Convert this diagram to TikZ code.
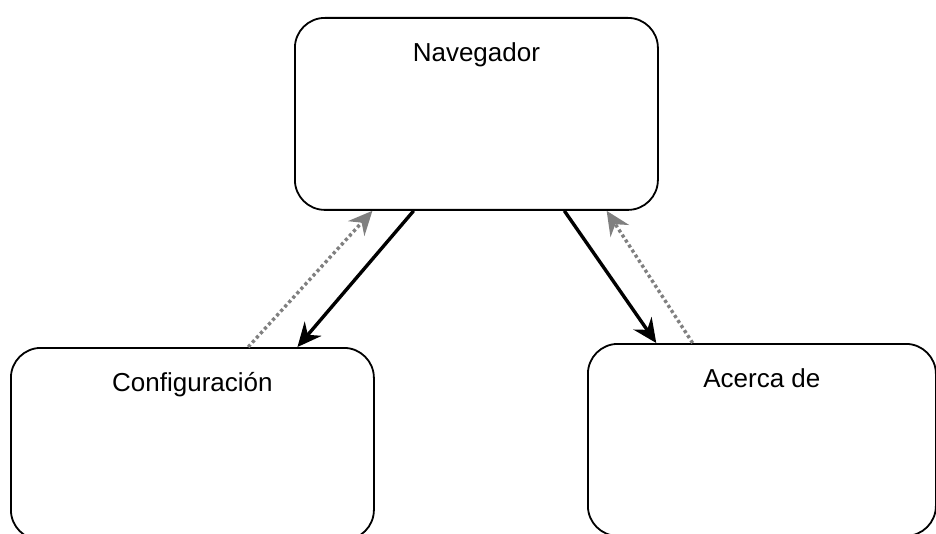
\documentclass[tikz,border=0pt]{standalone}
\usepackage{fontspec}
\setmainfont{Liberation Sans}
\usetikzlibrary{arrows.meta,calc}

\begin{document}
\begin{tikzpicture}[x=0.5pt,y=-0.5pt,
    screen/.style={draw,line width=0.9pt,rounded corners=15pt,anchor=north west,
      inner xsep=0pt,inner ysep=0pt,text height=22pt,text depth=74pt,
      font=\fontsize{13}{15}\selectfont},
    goto/.style={line width=1.7pt,-{Stealth[length=12pt,width=11pt,inset=4pt]}},
    back/.style={gray,line width=1.7pt,dash pattern=on 1.6pt off 1.4pt,
      -{Stealth[length=12pt,width=11pt,inset=4pt]}}]
        \useasboundingbox (0,0) rectangle (936,534);
        \node[screen,minimum width=181.5pt] (nav) at (294,17) {Navegador};
        \node[screen,minimum width=181.5pt] (conf) at (10,347) {Configuración};
        \node[screen,minimum width=174pt] (about) at (587,343) {Acerca de};
        \draw[goto] ($(nav.south west)!0.328!(nav.south east)$) -- ($(conf.north west)!0.788!(conf.north east)$);
        \draw[back] ($(conf.north west)!0.653!(conf.north east)$) -- ($(nav.south west)!0.215!(nav.south east)$);
        \draw[goto] ($(nav.south west)!0.741!(nav.south east)$) -- ($(about.north west)!0.198!(about.north east)$);
        \draw[back] ($(about.north west)!0.302!(about.north east)$) -- ($(nav.south west)!0.857!(nav.south east)$);
      \end{tikzpicture}
\end{document}
